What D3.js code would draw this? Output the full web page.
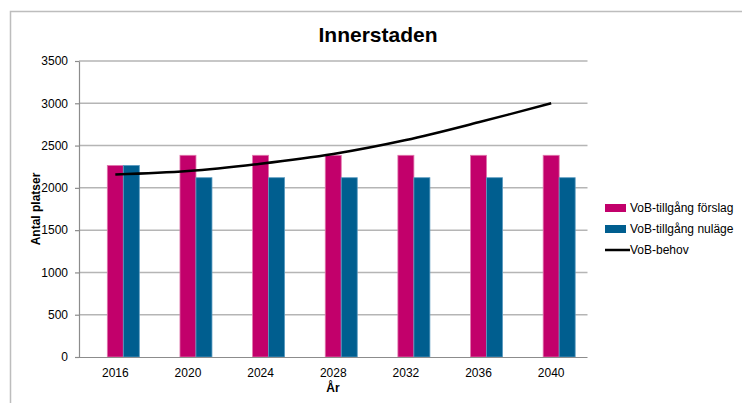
<!DOCTYPE html>
<meta charset="utf-8">
<script src="https://d3js.org/d3.v7.min.js"></script>
<style>
  body { margin: 0; background: #fff; }
  text { font-family: "Liberation Sans", Arial, sans-serif; fill: #000; }
</style>
<div id="chart"></div>
<script>
// data
var years = ["2016", "2020", "2024", "2028", "2032", "2036", "2040"];
var forslag = [2265, 2385, 2385, 2385, 2385, 2385, 2385];
var nulage = [2265, 2120, 2120, 2120, 2120, 2120, 2120];
var behov = [2157, 2198, 2285, 2400, 2565, 2775, 3000];
var yTicks = [0, 500, 1000, 1500, 2000, 2500, 3000, 3500];
var seriesNames = ["VoB-tillgång förslag", "VoB-tillgång nuläge", "VoB-behov"];

var W = 742, H = 403;
var margin = {top: 61, left: 79, right: 155, bottom: 46};

var svg = d3.select("#chart").append("svg")
    .attr("width", W).attr("height", H);

// outer chart frame (runs off to the right and bottom)
svg.append("path")
    .attr("d", "M10.5," + (H + 5) + "V11.5H" + (W + 5))
    .attr("fill", "none")
    .attr("stroke", "#bdbdbd")
    .attr("stroke-width", 1.5);

var x = d3.scaleBand()
    .domain(years)
    .range([margin.left, W - margin.right + 0.5])
    .padding(0);

// three slots per year, the first one is empty in the original
var xInner = d3.scaleBand()
    .domain(["tom", "forslag", "nulage"])
    .range([x.bandwidth() / 2 - 24, x.bandwidth() / 2 + 24]);

var y = d3.scaleLinear()
    .domain([0, 3500])
    .range([H - margin.bottom, margin.top]);

// gridlines
svg.append("g")
  .selectAll("line")
  .data(yTicks.filter(function(d) { return d > 0; }))
  .enter().append("line")
    .attr("x1", margin.left)
    .attr("x2", W - margin.right + 0.5)
    .attr("y1", function(d) { return y(d); })
    .attr("y2", function(d) { return y(d); })
    .attr("stroke", "#b5b5b5")
    .attr("stroke-width", 1.5);

// y axis
var yAxis = svg.append("g")
    .attr("transform", "translate(" + margin.left + ",0)")
    .call(d3.axisLeft(y).tickValues(yTicks).tickFormat(d3.format("d"))
      .tickSize(4).tickPadding(7).tickSizeOuter(0));
yAxis.select(".domain").attr("stroke", "#8c8c8c").attr("stroke-width", 1.2);
yAxis.selectAll(".tick line").attr("stroke", "#8c8c8c").attr("stroke-width", 1.2);
yAxis.selectAll(".tick text")
    .attr("font-size", "12px")
    .attr("font-family", "Liberation Sans, Arial, sans-serif")
    .attr("fill", "#000");

// bars
var groups = svg.append("g")
  .selectAll("g")
  .data(years)
  .enter().append("g")
    .attr("transform", function(d) { return "translate(" + x(d) + ",0)"; });

groups.append("rect")
    .attr("x", xInner("forslag"))
    .attr("width", xInner.bandwidth())
    .attr("y", function(d, i) { return y(forslag[i]); })
    .attr("height", function(d, i) { return y(0) - y(forslag[i]); })
    .attr("fill", "#c2006b")
    .attr("stroke", "#e077ad")
    .attr("stroke-width", 0.8);

groups.append("rect")
    .attr("x", xInner("nulage"))
    .attr("width", xInner.bandwidth())
    .attr("y", function(d, i) { return y(nulage[i]); })
    .attr("height", function(d, i) { return y(0) - y(nulage[i]); })
    .attr("fill", "#005e8f")
    .attr("stroke", "#5a9ac0")
    .attr("stroke-width", 0.8);

// x axis
var xAxis = svg.append("g")
    .attr("transform", "translate(0," + y(0) + ")")
    .call(d3.axisBottom(x).tickSize(0).tickPadding(11).tickSizeOuter(0));
xAxis.select(".domain").attr("stroke", "#8c8c8c").attr("stroke-width", 1.2)
    .attr("d", "M" + (margin.left - 4) + ",0.5H" + (W - margin.right + 0.5));
xAxis.selectAll(".tick text")
    .attr("font-size", "12px")
    .attr("font-family", "Liberation Sans, Arial, sans-serif")
    .attr("fill", "#000");

// demand line
var line = d3.line()
    .x(function(d, i) { return x(years[i]) + x.bandwidth() / 2; })
    .y(function(d) { return y(d); })
    .curve(d3.curveCatmullRom.alpha(0.5));

svg.append("path")
    .datum(behov)
    .attr("d", line)
    .attr("fill", "none")
    .attr("stroke", "#000")
    .attr("stroke-width", 2.5);

// title and axis titles
svg.append("text")
    .attr("x", 378)
    .attr("y", 42)
    .attr("text-anchor", "middle")
    .attr("font-size", "21px")
    .attr("font-weight", "bold")
    .text("Innerstaden");

svg.append("text")
    .attr("transform", "translate(40," + ((y(0) + y(3500)) / 2) + ") rotate(-90)")
    .attr("text-anchor", "middle")
    .attr("font-size", "12px")
    .attr("font-weight", "bold")
    .text("Antal platser");

svg.append("text")
    .attr("x", (margin.left + W - margin.right) / 2)
    .attr("y", 392)
    .attr("text-anchor", "middle")
    .attr("font-size", "12px")
    .attr("font-weight", "bold")
    .text("År");

// legend
var legend = svg.append("g").attr("transform", "translate(605,208)");
var colors = ["#c2006b", "#005e8f"];
seriesNames.forEach(function(name, i) {
  var row = legend.append("g").attr("transform", "translate(0," + (i * 21) + ")");
  if (i < 2) {
    row.append("rect")
        .attr("x", 0).attr("y", -4)
        .attr("width", 21).attr("height", 8)
        .attr("fill", colors[i]);
  } else {
    row.append("line")
        .attr("x1", 0).attr("x2", 25)
        .attr("y1", 0).attr("y2", 0)
        .attr("stroke", "#000")
        .attr("stroke-width", 2.5);
  }
  row.append("text")
      .attr("x", 25)
      .attr("y", 4)
      .attr("font-size", "12px")
      .text(name);
});
</script>
